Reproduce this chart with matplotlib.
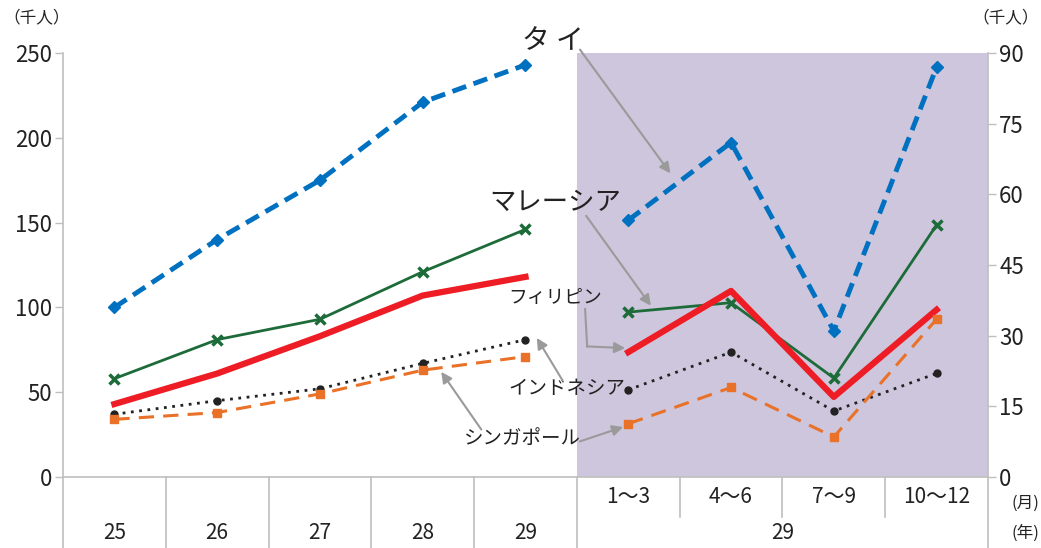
import numpy as np
import matplotlib
matplotlib.use("Agg")
import matplotlib.pyplot as plt
from matplotlib import transforms

plt.rcParams['font.family'] = ['Noto Sans CJK JP', 'DejaVu Sans']

# --- data (千人) ---
years = ["25", "26", "27", "28", "29"]
quarters = ["1～3", "4～6", "7～9", "10～12"]

# annual values, left axis
thai_y = [100, 140, 175, 221, 243]
malay_y = [58, 81, 93, 121, 146]
phil_y = [43, 61, 83, 107, 118]
indo_y = [37, 45, 52, 67, 81]
sing_y = [34, 38, 49, 63, 71]

# quarterly values for 29, right axis
thai_q = [54.5, 71, 31, 87]
malay_q = [35, 37, 21, 53.5]
phil_q = [26.5, 39.5, 17, 35.5]
indo_q = [18.5, 26.5, 14, 22]
sing_q = [11.3, 19, 8.5, 33.5]

left_ticks = [0, 50, 100, 150, 200, 250]
right_ticks = [0, 15, 30, 45, 60, 75, 90]

GRAY = "#BFBFBF"
ARROW = "#9A9A9A"
SHADE = "#CDC6DC"
TXT = "#222222"

styles = [
    dict(color="#0070C0", lw=3.5, ls=(0, (3, 1.6)), marker="D", ms=6),   # タイ
    dict(color="#1E6B3A", lw=2, ls="-", marker="x", ms=7, mew=2.5),       # マレーシア
    dict(color="#EE1C25", lw=4.5, ls="-", marker=None),                    # フィリピン
    dict(color="#222222", lw=2, ls=(0, (1, 2)), marker="o", ms=5),        # インドネシア
    dict(color="#E97128", lw=2.2, ls=(0, (5, 3)), marker="s", ms=6),      # シンガポール
]
annual = [thai_y, malay_y, phil_y, indo_y, sing_y]
quarterly = [thai_q, malay_q, phil_q, indo_q, sing_q]

fig = plt.figure(figsize=(10.41, 5.48), dpi=100)
ax = fig.add_axes([63 / 1041, 71 / 548, 925 / 1041, 424 / 548])
ax2 = ax.twinx()

n_cat = len(years) + len(quarters)
x_years = np.arange(len(years))
x_quarters = np.arange(len(years), n_cat)

ax.set_xlim(-0.5, n_cat - 0.5)
ax.set_ylim(0, 250)
ax2.set_ylim(0, 90)
ax.axvspan(len(years) - 0.5, n_cat - 0.5, color=SHADE, zorder=0, lw=0)

for vals, st in zip(annual, styles):
    ax.plot(x_years, vals, **st, zorder=3)
for vals, st in zip(quarterly, styles):
    ax2.plot(x_quarters, vals, **st, zorder=3)

ax.set_yticks(left_ticks)
ax2.set_yticks(right_ticks)
ax.set_xticks([])
for a in (ax, ax2):
    for s in a.spines.values():
        s.set_visible(False)
    a.tick_params(axis="y", colors=GRAY, length=6, width=1, labelsize=16, labelcolor=TXT, pad=2)

# axis lines and category dividers
tr = transforms.blended_transform_factory(ax.transData, ax.transAxes)
bottom = -71 / 424
mid = -40 / 424
ax.plot([-0.5, n_cat - 0.5], [0, 0], transform=tr, color=GRAY, lw=1.2, clip_on=False, zorder=4)
for xv in [-0.5, n_cat - 0.5]:
    ax.plot([xv, xv], [bottom, 1], transform=tr, color=GRAY, lw=1.2, clip_on=False, zorder=4)
for xv in np.arange(0.5, len(years)):
    ax.plot([xv, xv], [bottom, 0], transform=tr, color=GRAY, lw=1.2, clip_on=False)
for xv in np.arange(len(years) + 0.5, n_cat - 0.5):
    ax.plot([xv, xv], [mid, 0], transform=tr, color=GRAY, lw=1.2, clip_on=False)

for i, lab in enumerate(years):
    ax.text(i, -56 / 424, lab, transform=tr, ha="center", va="center", fontsize=15, color=TXT)
for xq, lab in zip(x_quarters, quarters):
    ax.text(xq, -20 / 424, lab, transform=tr, ha="center", va="center", fontsize=15, color=TXT)
ax.text(x_quarters.mean(), -56 / 424, "29", transform=tr, ha="center", va="center", fontsize=15, color=TXT)

fig.text(3 / 1041, 1 - 18 / 548, "（千人）", ha="left", va="center", fontsize=12, color=TXT)
fig.text(1039 / 1041, 1 - 18 / 548, "（千人）", ha="right", va="center", fontsize=12, color=TXT)
fig.text(1039 / 1041, 1 - 503 / 548, "(月)", ha="right", va="center", fontsize=12, color=TXT)
fig.text(1039 / 1041, 1 - 533 / 548, "(年)", ha="right", va="center", fontsize=12, color=TXT)

# series labels with arrows
arr = dict(arrowstyle="-|>", color=ARROW, lw=1.5, mutation_scale=16, shrinkA=0, shrinkB=0)
ax.text(4.27, 257, "タ イ", fontsize=20, ha="center", va="center", color=TXT, clip_on=False)
ax.annotate("", xy=(5.41, 179), xytext=(4.53, 252), arrowprops=arr, annotation_clip=False)

ax.text(4.29, 162, "マレーシア", fontsize=19, ha="center", va="center", color=TXT)
ax.annotate("", xy=(5.22, 101), xytext=(4.59, 154), arrowprops=arr, annotation_clip=False)

ax.text(4.29, 106, "フィリピン", fontsize=13.5, ha="center", va="center", color=TXT)
ax.plot([4.58, 4.60], [99, 77], color=ARROW, lw=1.5)
ax.annotate("", xy=(4.97, 76), xytext=(4.60, 77), arrowprops=arr, annotation_clip=False)

ax.text(4.40, 52, "インドネシア", fontsize=14, ha="center", va="center", color=TXT)
ax.annotate("", xy=(4.11, 82), xytext=(4.36, 57), arrowprops=arr, annotation_clip=False)

ax.text(3.97, 23, "シンガポール", fontsize=14, ha="center", va="center", color=TXT)
ax.annotate("", xy=(3.18, 62), xytext=(3.57, 28), arrowprops=arr, annotation_clip=False)
ax.annotate("", xy=(4.95, 29.5), xytext=(4.53, 21), arrowprops=arr, annotation_clip=False)

fig.savefig("out.png", dpi=100)
